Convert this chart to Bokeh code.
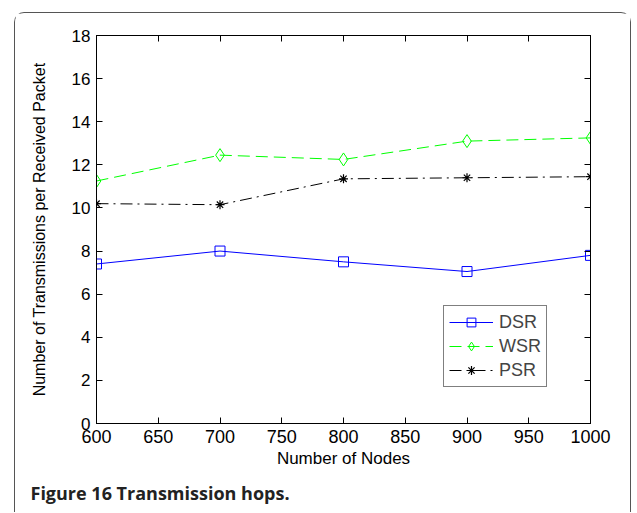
from bokeh.plotting import figure
from bokeh.models import (Range1d, LinearAxis, FixedTicker, Legend, LegendItem, Title)
from bokeh.embed import file_html
from bokeh.resources import INLINE

nodes = [600, 700, 800, 900, 1000]
dsr = [7.4, 8.0, 7.5, 7.05, 7.8]
wsr = [11.25, 12.45, 12.25, 13.1, 13.25]
psr = [10.2, 10.15, 11.35, 11.4, 11.45]
x_ticks = [600, 650, 700, 750, 800, 850, 900, 950, 1000]
y_ticks = [0, 2, 4, 6, 8, 10, 12, 14, 16, 18]

FONT = "Liberation Sans"

p = figure(width=617, height=500, output_backend="svg", toolbar_location=None,
           x_range=Range1d(600, 1000), y_range=Range1d(0, 18),
           min_border_left=81, min_border_right=42, min_border_top=22, min_border_bottom=10,
           background_fill_color="white", border_fill_color="white")
p.styles = {"margin-left": "14px", "margin-top": "12px",
            "border-left": "1.5px solid #555", "border-top": "1.5px solid #555",
            "border-right": "1.5px solid #555",
            "border-top-left-radius": "10px", "border-top-right-radius": "10px"}
p.grid.visible = False
p.outline_line_color = "black"
p.outline_line_width = 1

for ax in [p.xaxis[0], p.yaxis[0]]:
    ax.major_tick_in = 6
    ax.major_tick_out = 0
    ax.minor_tick_line_color = None
    ax.axis_line_color = "black"
    ax.major_label_text_font = FONT
    ax.major_label_text_color = "black"
    ax.axis_label_text_font = FONT
    ax.axis_label_text_font_style = "normal"
    ax.axis_label_text_color = "black"

p.xaxis[0].ticker = FixedTicker(ticks=x_ticks)
p.yaxis[0].ticker = FixedTicker(ticks=y_ticks)
p.xaxis[0].axis_label = "Number of Nodes"
p.yaxis[0].axis_label = "Number of Transmissions per Received Packet"
p.xaxis[0].major_label_text_font_size = "18px"
p.yaxis[0].major_label_text_font_size = "17px"
p.xaxis[0].axis_label_text_font_size = "17px"
p.yaxis[0].axis_label_text_font_size = "16px"
p.xaxis[0].axis_label_standoff = 3
p.yaxis[0].axis_label_standoff = 21
p.xaxis[0].major_label_standoff = 6
p.yaxis[0].major_label_standoff = 6

top = LinearAxis(ticker=FixedTicker(ticks=x_ticks), major_tick_in=6, major_tick_out=0,
                 minor_tick_line_color=None, major_label_text_font_size="0px",
                 major_label_text_color=None)
right = LinearAxis(ticker=FixedTicker(ticks=y_ticks), major_tick_in=6, major_tick_out=0,
                   minor_tick_line_color=None, major_label_text_font_size="0px",
                   major_label_text_color=None)
p.add_layout(top, "above")
p.add_layout(right, "right")

r1 = p.line(nodes, dsr, line_color="#0000ff", line_width=1)
m1 = p.scatter(nodes, dsr, marker="square", size=10, line_color="#0000ff",
               fill_color=None, line_width=1)
r2 = p.line(nodes, wsr, line_color="#00ff00", line_width=1, line_dash="12 6")
m2 = p.scatter(nodes, wsr, marker="diamond", size=13, line_color="#00ff00",
               fill_color=None, line_width=1)
r3 = p.line(nodes, psr, line_color="black", line_width=1, line_dash="12 5 2 5")
m3 = p.scatter(nodes, psr, marker="asterisk", size=9, line_color="black", line_width=1.2)

legend = Legend(items=[LegendItem(label="DSR", renderers=[r1, m1]),
                       LegendItem(label="WSR", renderers=[r2, m2]),
                       LegendItem(label="PSR", renderers=[r3, m3])],
                location=(347, 36), label_text_font=FONT, label_text_font_size="18px",
                border_line_color="black", border_line_width=1,
                glyph_width=44, glyph_height=22, label_height=22, spacing=2,
                padding=5, margin=0, label_standoff=6, background_fill_alpha=1)
p.add_layout(legend)

cap = Title(text="Figure 16 Transmission hops.", align="left", offset=-66,
            text_font="Open Sans", text_font_style="bold", text_font_size="18px",
            text_color="#222", standoff=17)
p.add_layout(cap, "below")

open("out.html", "w").write(file_html(p, INLINE))
